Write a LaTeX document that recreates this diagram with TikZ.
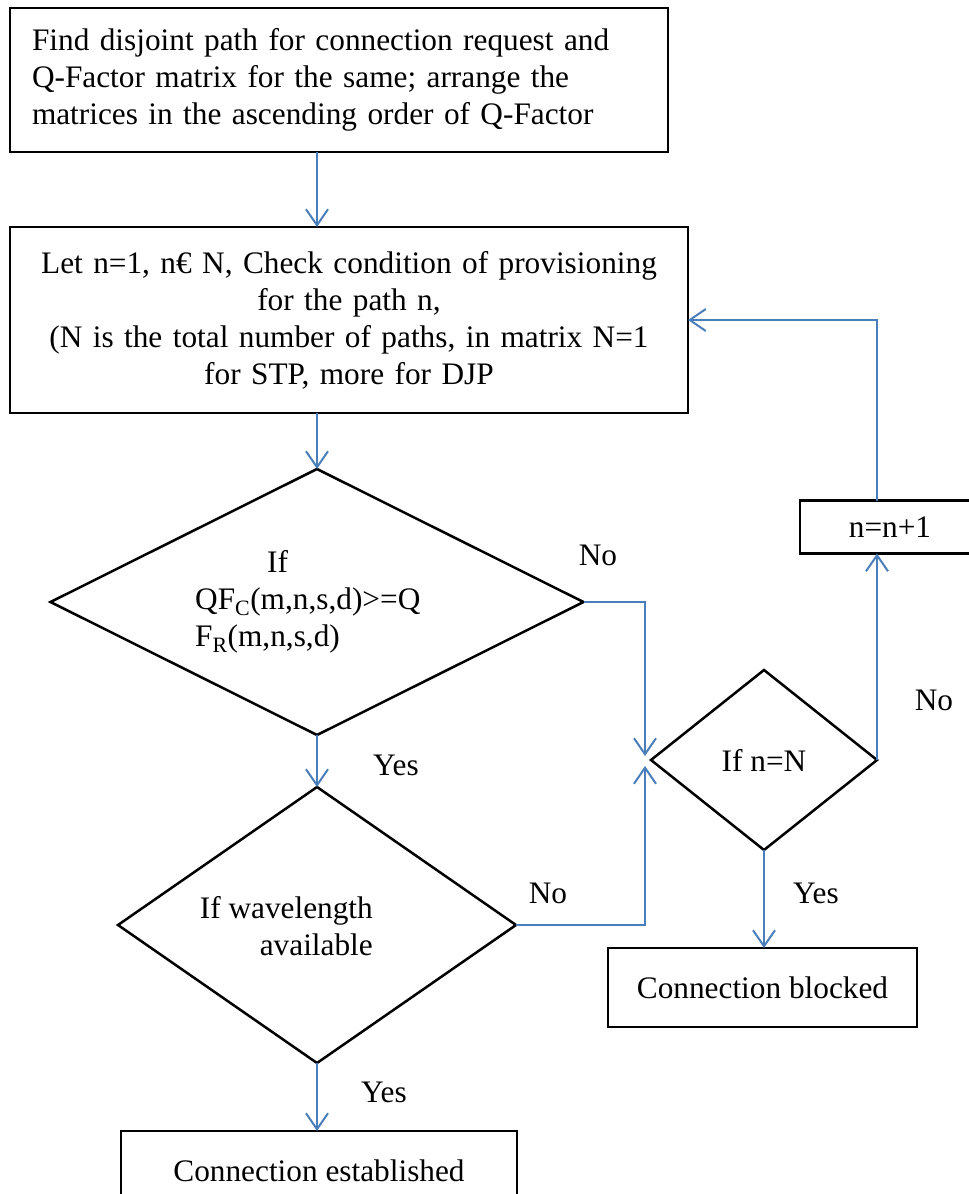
\documentclass[tikz,border=0pt]{standalone}
\usepackage{fontspec}
\setmainfont{Liberation Serif}
\usetikzlibrary{shapes.geometric,arrows.meta}
\definecolor{flowblue}{RGB}{74,126,187}
\newcommand{\flowfont}{\fontsize{31.3}{37}\selectfont}
\begin{document}
\begin{tikzpicture}[x=1pt,y=-1pt,
  txt/.style={font=\flowfont, inner sep=0pt},
  procbox/.style={draw=black, line width=2.5pt, rectangle, inner sep=0pt, outer sep=0pt,
                  font=\flowfont},
  decision/.style={draw=black, line width=2.5pt, diamond, inner sep=0pt, outer sep=0pt,
                   font=\flowfont},
  flow/.style={draw=flowblue, line width=2pt, -{Straight Barb[length=16pt,width=22pt]}},
  tag/.style={font=\flowfont, inner sep=0pt}]

\useasboundingbox (0,0) rectangle (969,1194);

% process boxes
\node[procbox, minimum width=658pt, minimum height=144pt, text width=614pt, align=left]
  (find) at (339,80)
  {Find disjoint path for connection request and\\
   Q-Factor matrix for the same; arrange the\\
   matrices in the ascending order of Q-Factor};

\node[procbox, minimum width=678pt, minimum height=186pt, text width=660pt, align=center]
  (let) at (349,320)
  {Let n=1, n€ N, Check condition of provisioning\\
   for the path n,\\
   (N is the total number of paths, in matrix N=1\\
   for STP, more for DJP};

\node[procbox, minimum width=180pt, minimum height=53pt] (inc) at (890,527) {\raisebox{-5pt}{n=n+1}};
\node[procbox, minimum width=309pt, minimum height=79pt] (blk) at (762.5,987.5) {Connection blocked};
\node[procbox, minimum width=396pt, minimum height=80pt] (est) at (319,1171) {Connection established};

% decisions
\node[decision, minimum width=533pt, minimum height=266pt] (qf) at (317,602) {};
\node[txt, anchor=west, align=left] (qftext) at (195,602)
  {\hspace*{72pt}If\\
   QF\textsubscript{C}(m,n,s,d)>=Q\\
   F\textsubscript{R}(m,n,s,d)};

\node[decision, minimum width=398pt, minimum height=276pt] (wave) at (317,925) {};
\node[txt, anchor=east, align=right] (wavetext) at (373,926) {If wavelength\\ available};

\node[decision, minimum width=226pt, minimum height=180pt] (last) at (764,760) {If n=N};

% connectors
\coordinate (mergeA) at (645,756);
\coordinate (mergeB) at (645,766);

\draw[flow] (qf.north |- find.south) -- (qf.north |- let.north);
\draw[flow] (qf.north |- let.south) -- (qf.north);
\draw[flow] (qf.east) -| (mergeA);
\draw[flow] (wave.east) -| (mergeB);
\draw[flow] (qf.south) -- (wave.north);
\draw[flow] (wave.south) -- (wave.south |- est.north);
\draw[flow] (last.south) -- (last.south |- blk.north);
\draw[flow] (last.east) -- (last.east |- inc.south);
\draw[flow] (last.east |- inc.north) |- (let.east);

% branch labels
\node[tag] (no1) at (598,555) {No};
\node[tag] (yes1) at (396,765) {Yes};
\node[tag] (no2) at (548,893) {No};
\node[tag] (yes2) at (816,893) {Yes};
\node[tag] (no3) at (934,700) {No};
\node[tag] (yes3) at (384,1092) {Yes};
\end{tikzpicture}
\end{document}
